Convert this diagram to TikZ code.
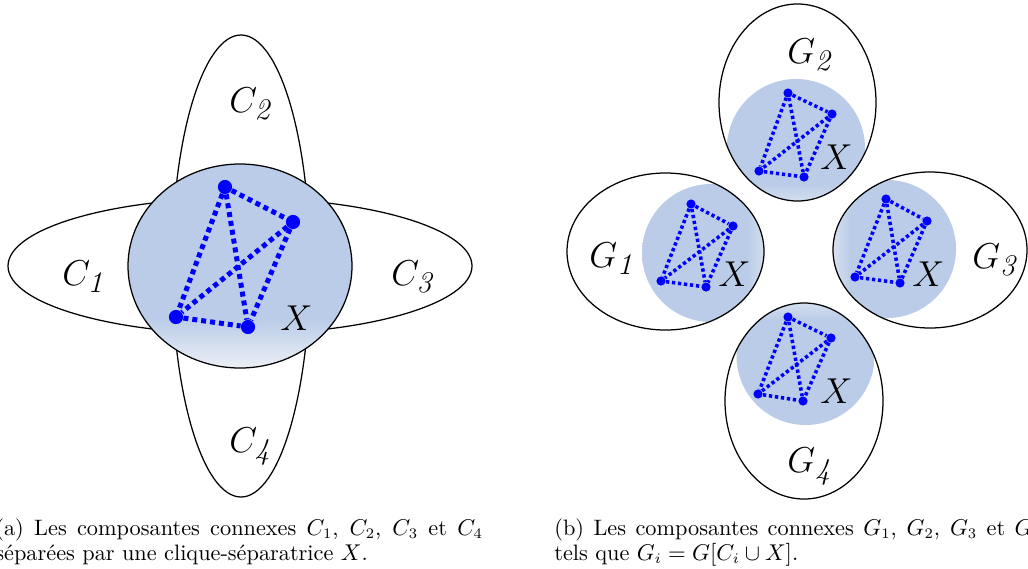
\documentclass[tikz,border=0pt]{standalone}
\begin{document}
\definecolor{xb}{RGB}{186,204,231}
\definecolor{xl}{RGB}{236,240,247}
\definecolor{nb}{RGB}{0,0,255}
\pgfdeclareverticalshading{xfade}{100bp}{color(0bp)=(xl); color(25bp)=(xl); color(37bp)=(xb); color(100bp)=(xb)}
\tikzset{
  vtxL/.style={circle, fill=nb, inner sep=0pt, minimum size=6.8pt},
  vtxR/.style={circle, fill=nb, inner sep=0pt, minimum size=4.4pt},
  edgeL/.style={draw=nb, line width=2.4pt, dash pattern=on 2.4pt off 1.9pt},
  edgeR/.style={draw=nb, line width=1.7pt, dash pattern=on 1.6pt off 1.3pt},
  comp/.style={draw=black, line width=0.6pt},
  lab/.style={anchor=base west, inner sep=0pt, font=\fontsize{19}{22}\selectfont},
  captext/.style={anchor=base west, inner sep=0pt, font=\fontsize{10.7}{12.8}\selectfont}
}
\newcommand\kq[6]{%
  \node[vtx#6] (#1a) at #2 {};
  \node[vtx#6] (#1b) at #3 {};
  \node[vtx#6] (#1c) at #4 {};
  \node[vtx#6] (#1d) at #5 {};
  \foreach \ea/\eb in {a/b,a/c,a/d,b/c,b/d,c/d}{\draw[edge#6] (#1\ea) -- (#1\eb);}
}
\begin{tikzpicture}[x=0.48pt,y=-0.48pt]
\useasboundingbox (0,0) rectangle (1028,568);
% ---------- (a) ----------
\draw[comp] (240,266) ellipse [x radius=232, y radius=68];
\draw[comp] (241,266) ellipse [x radius=69, y radius=231];
\shade[shading=xfade] (240,266) ellipse [x radius=112, y radius=102];
\draw[comp] (240,266) ellipse [x radius=112, y radius=102];
\kq{l}{(225,187)}{(293,222)}{(176,317)}{(248,327)}{L}
\node[lab] (lx) at (280,330) {$X$};
\node[lab] (c1) at (62,285) {$C_{\mathit{1}}$};
\node[lab] (c2) at (229,112) {$C_{\mathit{2}}$};
\node[lab] (c3) at (391,285) {$C_{\mathit{3}}$};
\node[lab] (c4) at (229,452) {$C_{\mathit{4}}$};
% ---------- (b) ----------
% G2
\begin{scope}
\clip (797.5,102.5) ellipse [x radius=78.5, y radius=98.5];
\shade[shading=xfade, shading angle=0] (796,148) circle [radius=69];
\end{scope}
\draw[comp] (797.5,102.5) ellipse [x radius=78.5, y radius=98.5];
% G1
\begin{scope}
\clip (665.5,251.5) ellipse [x radius=98.5, y radius=78.5];
\shade[shading=xfade, shading angle=90] (711,253) circle [radius=69];
\end{scope}
\draw[comp] (665.5,251.5) ellipse [x radius=98.5, y radius=78.5];
% G3
\begin{scope}
\clip (930,250) ellipse [x radius=97, y radius=78];
\shade[shading=xfade, shading angle=-90] (887,249) circle [radius=69];
\end{scope}
\draw[comp] (930,250) ellipse [x radius=97, y radius=78];
% G4
\begin{scope}
\clip (804,401) ellipse [x radius=79, y radius=98];
\shade[shading=xfade, shading angle=180] (805.5,356) circle [radius=69];
\end{scope}
\draw[comp] (804,401) ellipse [x radius=79, y radius=98];
\kq{t}{(788,93)}{(832,114)}{(759,171)}{(804,177)}{R}
\kq{w}{(691,204)}{(733,226)}{(661,281)}{(706,287)}{R}
\kq{e}{(886,199)}{(927,221)}{(855,277)}{(900,283)}{R}
\kq{s}{(788,317)}{(831,338)}{(758,394)}{(803,401)}{R}
\node[lab] (x2) at (820,169) {$X$};
\node[lab] (x1) at (718,286) {$X$};
\node[lab] (x3) at (912,286) {$X$};
\node[lab] (x4) at (820,403) {$X$};
\node[lab] (g2) at (787,63) {$G_{\mathit{2}}$};
\node[lab] (g1) at (589,267) {$G_{\mathit{1}}$};
\node[lab] (g3) at (972,268) {$G_{\mathit{3}}$};
\node[lab] (g4) at (787,472) {$G_{\mathit{4}}$};
% ---------- captions ----------
\node[captext] (capa1) at (-5,535) {\makebox[234pt][s]{(a) Les composantes connexes $C_1$, $C_2$, $C_3$ et $C_4$}};
\node[captext] (capa2) at (-5,560) {séparées par une clique-séparatrice $X$.};
\node[captext] (capb1) at (554,535) {\makebox[234pt][s]{(b) Les composantes connexes $G_1$, $G_2$, $G_3$ et $G_4$}};
\node[captext] (capb2) at (554,560) {tels que $G_i=G[C_i\cup X]$.};
\end{tikzpicture}
\end{document}
